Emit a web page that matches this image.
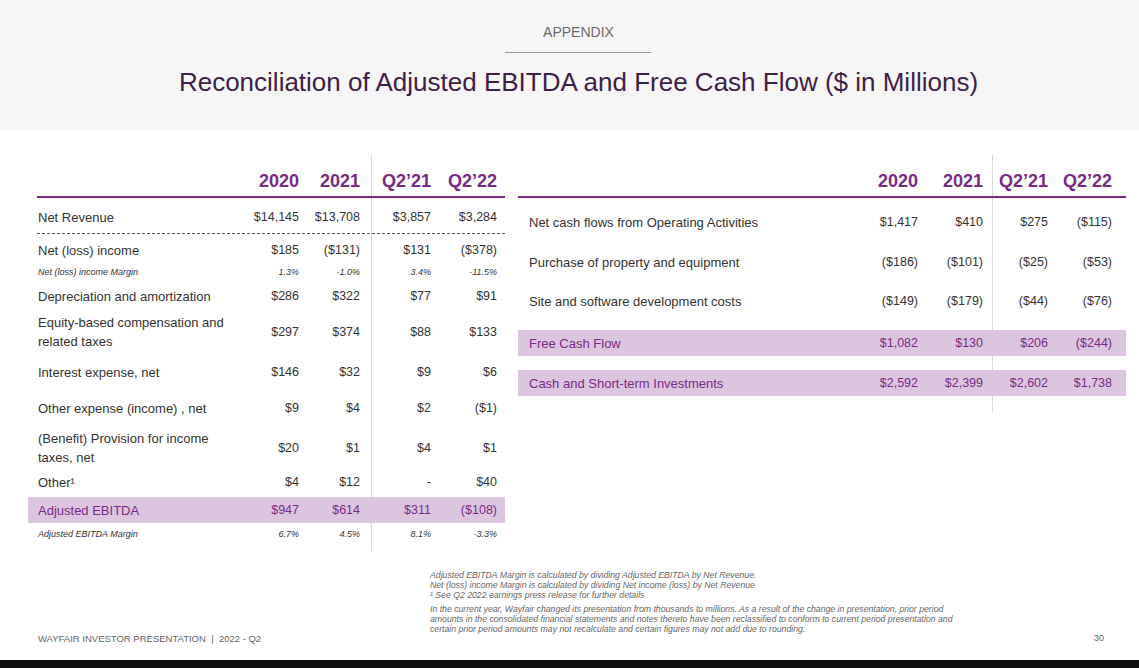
<!DOCTYPE html>
<html><head><meta charset="utf-8">
<script src="https://cdn.jsdelivr.net/npm/chart.js@4"></script>
<style>
body{margin:0;width:1139px;height:668px;position:relative;overflow:hidden;font-family:Arial,"Liberation Sans",sans-serif;background:#fff;color:#333}
.top{position:absolute;left:0;top:0;width:1139px;height:130px;background:#f7f6f7}
.t{position:absolute;white-space:nowrap}
.r{text-align:right}
.hl{position:absolute;background:#dcc5de}
.line{position:absolute;background:#7a2a86}
.v{position:absolute;width:1px;background:#d8d8d8}
.bar{position:absolute;left:0;top:660px;width:1139px;height:8px;background:#111}
</style></head><body>
<div class="top"></div>
<div class="t" style="left:0;width:1157px;text-align:center;top:24px;font-size:14px;color:#6b6b6b">APPENDIX</div>
<div style="position:absolute;left:505px;top:52px;width:146px;height:1px;background:#999"></div>
<div class="t" style="left:0;width:1157px;text-align:center;top:67px;font-size:26px;color:#3d1f47">Reconciliation of Adjusted EBITDA and Free Cash Flow ($ in Millions)</div>
<div id="root"></div>
<div class="t" style="left:430px;top:570px;font-size:8.7px;font-style:italic;color:#666;line-height:10px">Adjusted EBITDA Margin is calculated by dividing Adjusted EBITDA by Net Revenue.<br>Net (loss) income Margin is calculated by dividing Net income (loss) by Net Revenue<br>¹ See Q2 2022 earnings press release for further details</div>
<div class="t" style="left:430px;top:604px;font-size:8.7px;font-style:italic;color:#666;line-height:10px">In the current year, Wayfair changed its presentation from thousands to millions. As a result of the change in presentation, prior period<br>amounts in the consolidated financial statements and notes thereto have been reclassified to conform to current period presentation and<br>certain prior period amounts may not recalculate and certain figures may not add due to rounding.</div>
<div class="t" style="left:38px;top:633px;font-size:9.5px;color:#666">WAYFAIR INVESTOR PRESENTATION &nbsp;|&nbsp; 2022 - Q2</div>
<div class="t" style="left:1094px;top:633px;font-size:9px;color:#666">30</div>
<div class="bar"></div>
<script>
const root = document.getElementById('root');
function el(html) { root.insertAdjacentHTML('beforeend', html); }

const heads = ['2020', '2021', 'Q2\u201921', 'Q2\u201922'];

// left table: label lines, y centre, values, style
const left = {
  x: 38, cols: [299, 360, 431, 497], vline: 371,
  rows: [
    { label: ['Net Revenue'], y: 217, vals: ['$14,145', '$13,708', '$3,857', '$3,284'] },
    { label: ['Net (loss) income'], y: 250, vals: ['$185', '($131)', '$131', '($378)'] },
    { label: ['Net (loss) income Margin'], y: 272, vals: ['1.3%', '-1.0%', '3.4%', '-11.5%'], small: true },
    { label: ['Depreciation and amortization'], y: 296, vals: ['$286', '$322', '$77', '$91'] },
    { label: ['Equity-based compensation and', 'related taxes'], y: 332, vals: ['$297', '$374', '$88', '$133'] },
    { label: ['Interest expense, net'], y: 372, vals: ['$146', '$32', '$9', '$6'] },
    { label: ['Other expense (income) , net'], y: 408, vals: ['$9', '$4', '$2', '($1)'] },
    { label: ['(Benefit) Provision for income', 'taxes, net'], y: 448, vals: ['$20', '$1', '$4', '$1'] },
    { label: ['Other\u00b9'], y: 482, vals: ['$4', '$12', '-', '$40'] },
    { label: ['Adjusted EBITDA'], y: 510, vals: ['$947', '$614', '$311', '($108)'], hl: [28, 505] },
    { label: ['Adjusted EBITDA Margin'], y: 534, vals: ['6.7%', '4.5%', '8.1%', '-3.3%'], small: true }
  ]
};
const right = {
  x: 529, cols: [918, 983, 1048, 1112], vline: 992,
  rows: [
    { label: ['Net cash flows from Operating Activities'], y: 222, vals: ['$1,417', '$410', '$275', '($115)'] },
    { label: ['Purchase of property and equipment'], y: 262, vals: ['($186)', '($101)', '($25)', '($53)'] },
    { label: ['Site and software development costs'], y: 301, vals: ['($149)', '($179)', '($44)', '($76)'] },
    { label: ['Free Cash Flow'], y: 343, vals: ['$1,082', '$130', '$206', '($244)'], hl: [518, 1126] },
    { label: ['Cash and Short-term Investments'], y: 383, vals: ['$2,592', '$2,399', '$2,602', '$1,738'], hl: [518, 1126] }
  ]
};

function drawTable(tb, x0, x1, vTop, vBot) {
  el(`<div class="v" style="left:${tb.vline}px;top:${vTop}px;height:${vBot - vTop}px"></div>`);
  heads.forEach((h, i) => el(`<div class="t r" style="left:${tb.cols[i] - 80}px;width:80px;top:171px;font-size:18px;font-weight:bold;color:#7a2a86">${h}</div>`));
  el(`<div class="line" style="left:${x0}px;top:196px;width:${x1 - x0}px;height:2px"></div>`);
  tb.rows.forEach(r => {
    if (r.hl) el(`<div class="hl" style="left:${r.hl[0]}px;top:${r.y - 13}px;width:${r.hl[1] - r.hl[0]}px;height:26px"></div>`);
    const fs = r.small ? 9 : 13, lh = r.small ? 11 : 19;
    const col = r.hl ? '#7a2a86' : '#333';
    const st = r.small ? 'font-style:italic;' : '';
    const h = r.label.length * lh;
    el(`<div class="t" style="left:${tb.x}px;top:${r.y - h / 2}px;font-size:${fs}px;line-height:${lh}px;color:${col};${st}">${r.label.join('<br>')}</div>`);
    r.vals.forEach((v, i) => el(`<div class="t r" style="left:${tb.cols[i] - 80}px;width:80px;top:${r.y - lh / 2}px;font-size:${r.small ? 9 : 12.5}px;line-height:${lh}px;color:${col};${st}">${v}</div>`));
  });
}
drawTable(left, 37, 505, 155, 550);
el(`<div style="position:absolute;left:37px;top:233px;width:468px;border-top:1px dashed #555"></div>`);
drawTable(right, 518, 1126, 155, 412);
</script>
</body></html>
